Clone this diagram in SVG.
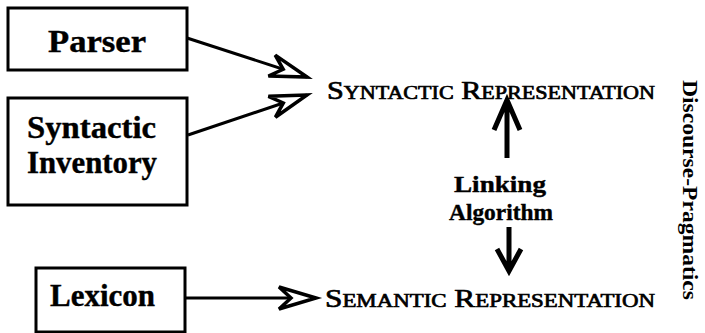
<svg xmlns="http://www.w3.org/2000/svg" width="705" height="333" viewBox="0 0 705 333">
<style>
.box{fill:#fff;stroke:#000;stroke-width:3}
.lbl{font-family:"Liberation Serif",serif;font-weight:bold;font-size:31px;fill:#000;stroke:#000;stroke-width:0.4}
.rep{font-family:"Liberation Serif",serif;font-size:26px;fill:#000;stroke:#000;stroke-width:0.7}
.sc{font-size:19px}
.mid{font-family:"Liberation Serif",serif;font-weight:bold;font-size:24px;fill:#000;stroke:#000;stroke-width:0.4}
.side{font-family:"Liberation Serif",serif;font-weight:bold;font-size:20px;fill:#000}
.conn{fill:none;stroke:#000;stroke-width:3}
.thick{fill:none;stroke:#000;stroke-width:5;stroke-linecap:butt;stroke-linejoin:miter}
</style>
<defs>
<marker id="open" markerUnits="userSpaceOnUse" viewBox="-40 -14 44 28" markerWidth="44" markerHeight="28" refX="0" refY="0" orient="auto" overflow="visible">
<path d="M0,0 L-37,-11 L-25,0 L-37,11 Z" fill="#fff" stroke="#000" stroke-width="3.5" stroke-linejoin="miter"/>
</marker>
</defs>
<g id="parser">
<rect class="box" x="8" y="8" width="179" height="62"/>
<text class="lbl" x="97" y="52" text-anchor="middle" textLength="98" lengthAdjust="spacingAndGlyphs">Parser</text>
</g>
<g id="syntactic-inventory">
<rect class="box" x="8" y="98" width="179" height="107"/>
<text class="lbl" x="27" y="138" textLength="129" lengthAdjust="spacingAndGlyphs">Syntactic</text>
<text class="lbl" x="27" y="173" textLength="130" lengthAdjust="spacingAndGlyphs">Inventory</text>
</g>
<g id="lexicon">
<rect class="box" x="36" y="268" width="149" height="64"/>
<text class="lbl" x="50" y="306" textLength="105" lengthAdjust="spacingAndGlyphs">Lexicon</text>
</g>
<g id="syntactic-representation">
<text class="rep" x="327" y="99" textLength="328" lengthAdjust="spacingAndGlyphs">S<tspan class="sc">YNTACTIC</tspan> R<tspan class="sc">EPRESENTATION</tspan></text>
</g>
<g id="semantic-representation">
<text class="rep" x="325" y="307" textLength="330" lengthAdjust="spacingAndGlyphs">S<tspan class="sc">EMANTIC</tspan>  R<tspan class="sc">EPRESENTATION</tspan></text>
</g>
<g id="linking-algorithm">
<text class="mid" x="500" y="192" text-anchor="middle" textLength="92" lengthAdjust="spacingAndGlyphs">Linking</text>
<text class="mid" x="501" y="220" text-anchor="middle" textLength="104" lengthAdjust="spacingAndGlyphs">Algorithm</text>
</g>
<g id="discourse-pragmatics">
<text class="side" transform="translate(683,80) rotate(90)" textLength="220" lengthAdjust="spacingAndGlyphs">Discourse-Pragmatics</text>
</g>
<g id="connectors">
<line class="conn" x1="187" y1="38" x2="307" y2="77" marker-end="url(#open)"/>
<line class="conn" x1="188" y1="135" x2="307" y2="95" marker-end="url(#open)"/>
<line class="conn" x1="185" y1="298" x2="316" y2="298" marker-end="url(#open)"/>
<path class="thick" d="M507,158 L507,102 M494,130 L507,100 L520,130"/>
<path class="thick" d="M509,227 L509,268 M497,249 L509,271 L521,249"/>
</g>
</svg>
